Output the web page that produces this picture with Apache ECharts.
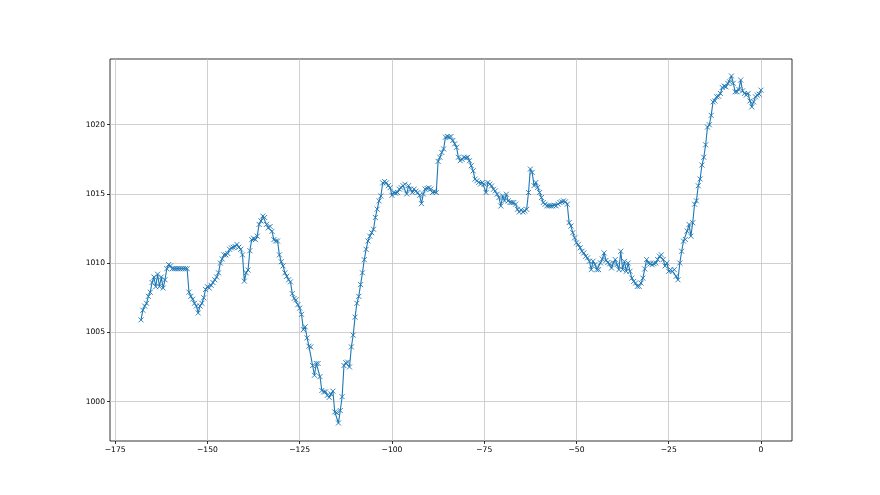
<!DOCTYPE html>
<html><head><meta charset="utf-8">
<script src="https://cdn.jsdelivr.net/npm/echarts@6/dist/echarts.min.js"></script>
<style>html,body{margin:0;padding:0;background:#fff}#c{width:880px;height:495px}</style>
</head><body><div id="c"></div>
<script>
// time axis: hours relative to now, half-hourly readings
const startHour = -168;
const stepHours = 0.5;
// pressure readings (hPa), one per half hour from -168 to 0
const pressure = [
1005.9,1006.6,1006.9,1007.1,1007.6,1007.9,1008.6,1009.0,1008.3,1009.2,
1008.3,1009.0,1008.2,1008.8,1009.6,1009.9,1009.8,1009.6,1009.6,1009.6,
1009.6,1009.6,1009.6,1009.6,1009.6,1009.6,1007.9,1007.6,1007.4,1007.1,
1006.9,1006.4,1006.9,1007.1,1007.5,1008.1,1008.3,1008.2,1008.4,1008.6,
1008.8,1009.0,1009.3,1010.0,1010.3,1010.6,1010.6,1010.7,1011.0,1011.1,
1011.15,1011.2,1011.35,1011.15,1011.0,1010.6,1008.7,1009.3,1009.5,1010.9,
1011.7,1011.8,1011.7,1011.95,1012.8,1013.05,1013.4,1013.3,1012.8,1012.55,
1012.65,1012.3,1011.7,1011.6,1011.6,1010.6,1010.1,1009.8,1009.3,1009.05,
1008.8,1008.65,1007.8,1007.45,1007.35,1007.0,1006.75,1006.3,1005.2,1005.4,
1004.6,1004.0,1003.95,1002.6,1001.9,1002.75,1002.75,1001.8,1000.8,1000.7,
1000.7,1000.45,1000.3,1000.55,1000.75,999.25,999.2,998.45,999.35,1000.35,
1002.6,1002.8,1002.85,1002.5,1003.95,1004.8,1006.1,1007.1,1007.6,1008.45,
1009.3,1010.25,1011.0,1011.6,1011.95,1012.2,1012.45,1013.3,1013.9,1014.5,
1014.85,1015.8,1015.9,1015.8,1015.6,1015.45,1014.9,1015.1,1015.05,1015.1,
1015.35,1015.45,1015.6,1015.7,1015.0,1015.6,1015.35,1015.1,1015.35,1015.2,
1015.1,1014.9,1014.3,1015.0,1015.35,1015.4,1015.45,1015.35,1015.1,1015.2,
1015.1,1017.35,1017.65,1018.0,1018.25,1019.1,1019.15,1019.1,1019.15,1018.86,
1018.62,1018.37,1017.65,1017.4,1017.5,1017.65,1017.6,1017.65,1017.4,1017.04,
1016.67,1016.07,1015.95,1015.83,1015.71,1015.83,1015.71,1015.1,1015.83,1015.71,
1015.58,1015.34,1015.22,1014.98,1014.74,1014.13,1014.86,1014.5,1014.98,1014.5,
1014.38,1014.38,1014.38,1014.26,1013.89,1013.7,1013.85,1013.7,1013.77,1013.89,
1015.1,1016.8,1016.56,1015.6,1015.83,1015.47,1015.1,1014.74,1014.38,1014.26,
1014.14,1014.14,1014.14,1014.14,1014.19,1014.14,1014.26,1014.38,1014.43,1014.5,
1014.43,1014.26,1012.93,1012.68,1012.2,1011.83,1011.47,1011.35,1011.11,1010.86,
1010.74,1010.5,1010.38,1010.14,1009.53,1010.14,1009.9,1009.53,1009.53,1010.02,
1010.3,1010.74,1010.2,1010.05,1009.95,1009.65,1010.01,1010.26,1009.89,1009.53,
1010.86,1009.53,1010.13,1009.41,1010.01,1009.41,1008.92,1008.68,1008.56,1008.32,
1008.32,1008.56,1008.92,1009.58,1010.26,1010.01,1009.96,1009.89,1009.96,1010.01,
1010.26,1010.5,1010.6,1010.26,1009.8,1010.01,1009.41,1009.53,1009.41,1009.53,
1009.05,1008.8,1010.01,1010.86,1011.59,1011.71,1012.32,1012.8,1011.95,1012.92,
1014.26,1014.5,1015.59,1016.08,1017.09,1017.65,1018.55,1019.83,1020.0,1020.68,
1021.65,1021.72,1022.02,1022.06,1022.26,1022.69,1022.79,1022.74,1022.99,1023.1,
1023.52,1023.0,1022.38,1022.38,1022.55,1023.23,1022.45,1022.26,1022.14,1022.26,
1021.72,1021.29,1021.65,1022.02,1022.14,1022.21,1022.5
];
const xTicks = [-175, -150, -125, -100, -75, -50, -25, 0];
const yTicks = [1000, 1005, 1010, 1015, 1020];
const xRange = [-176.4, 8.4];
const yRange = [997.15, 1024.75];

const seriesData = pressure.map((v, i) => [startHour + i * stepHours, v]);

const chart = echarts.init(document.getElementById('c'), null, {renderer: 'canvas'});
const font = 'DejaVu Sans';
chart.setOption({
  animation: false,
  backgroundColor: '#ffffff',
  grid: {left: 110, top: 59, width: 682, height: 382, show: true, borderColor: '#000', borderWidth: 0.8, backgroundColor: 'transparent'},
  xAxis: {
    type: 'value', min: xRange[0], max: xRange[1], position: 'bottom',
    axisLine: {show: false, onZero: false},
    axisTick: {show: true, length: 3, lineStyle: {color: '#000', width: 0.8}, customValues: xTicks},
    axisLabel: {show: true, color: '#000', fontFamily: font, fontSize: 7.6, margin: 5, customValues: xTicks,
      formatter: v => (v < 0 ? '\u2212' + Math.abs(v) : String(v))},
    splitLine: {show: true, lineStyle: {color: '#c4c4c4', width: 0.8}}
  },
  yAxis: {
    type: 'value', min: yRange[0], max: yRange[1], position: 'left',
    axisLine: {show: false, onZero: false},
    axisTick: {show: true, length: 3, lineStyle: {color: '#000', width: 0.8}, customValues: yTicks},
    axisLabel: {show: true, color: '#000', fontFamily: font, fontSize: 7.6, margin: 5, customValues: yTicks,
      formatter: v => String(v)},
    splitLine: {show: true, lineStyle: {color: '#c4c4c4', width: 0.8}}
  },
  series: [{
    type: 'line',
    data: seriesData,
    symbol: 'path://M0,0L1,1M1,0L0,1',
    symbolSize: 5,
    showAllSymbol: true,
    itemStyle: {color: '#1f77b4', borderColor: '#1f77b4', borderWidth: 0.9},
    lineStyle: {color: '#1f77b4', width: 1.1},
    z: 3
  }]
});
</script></body></html>
